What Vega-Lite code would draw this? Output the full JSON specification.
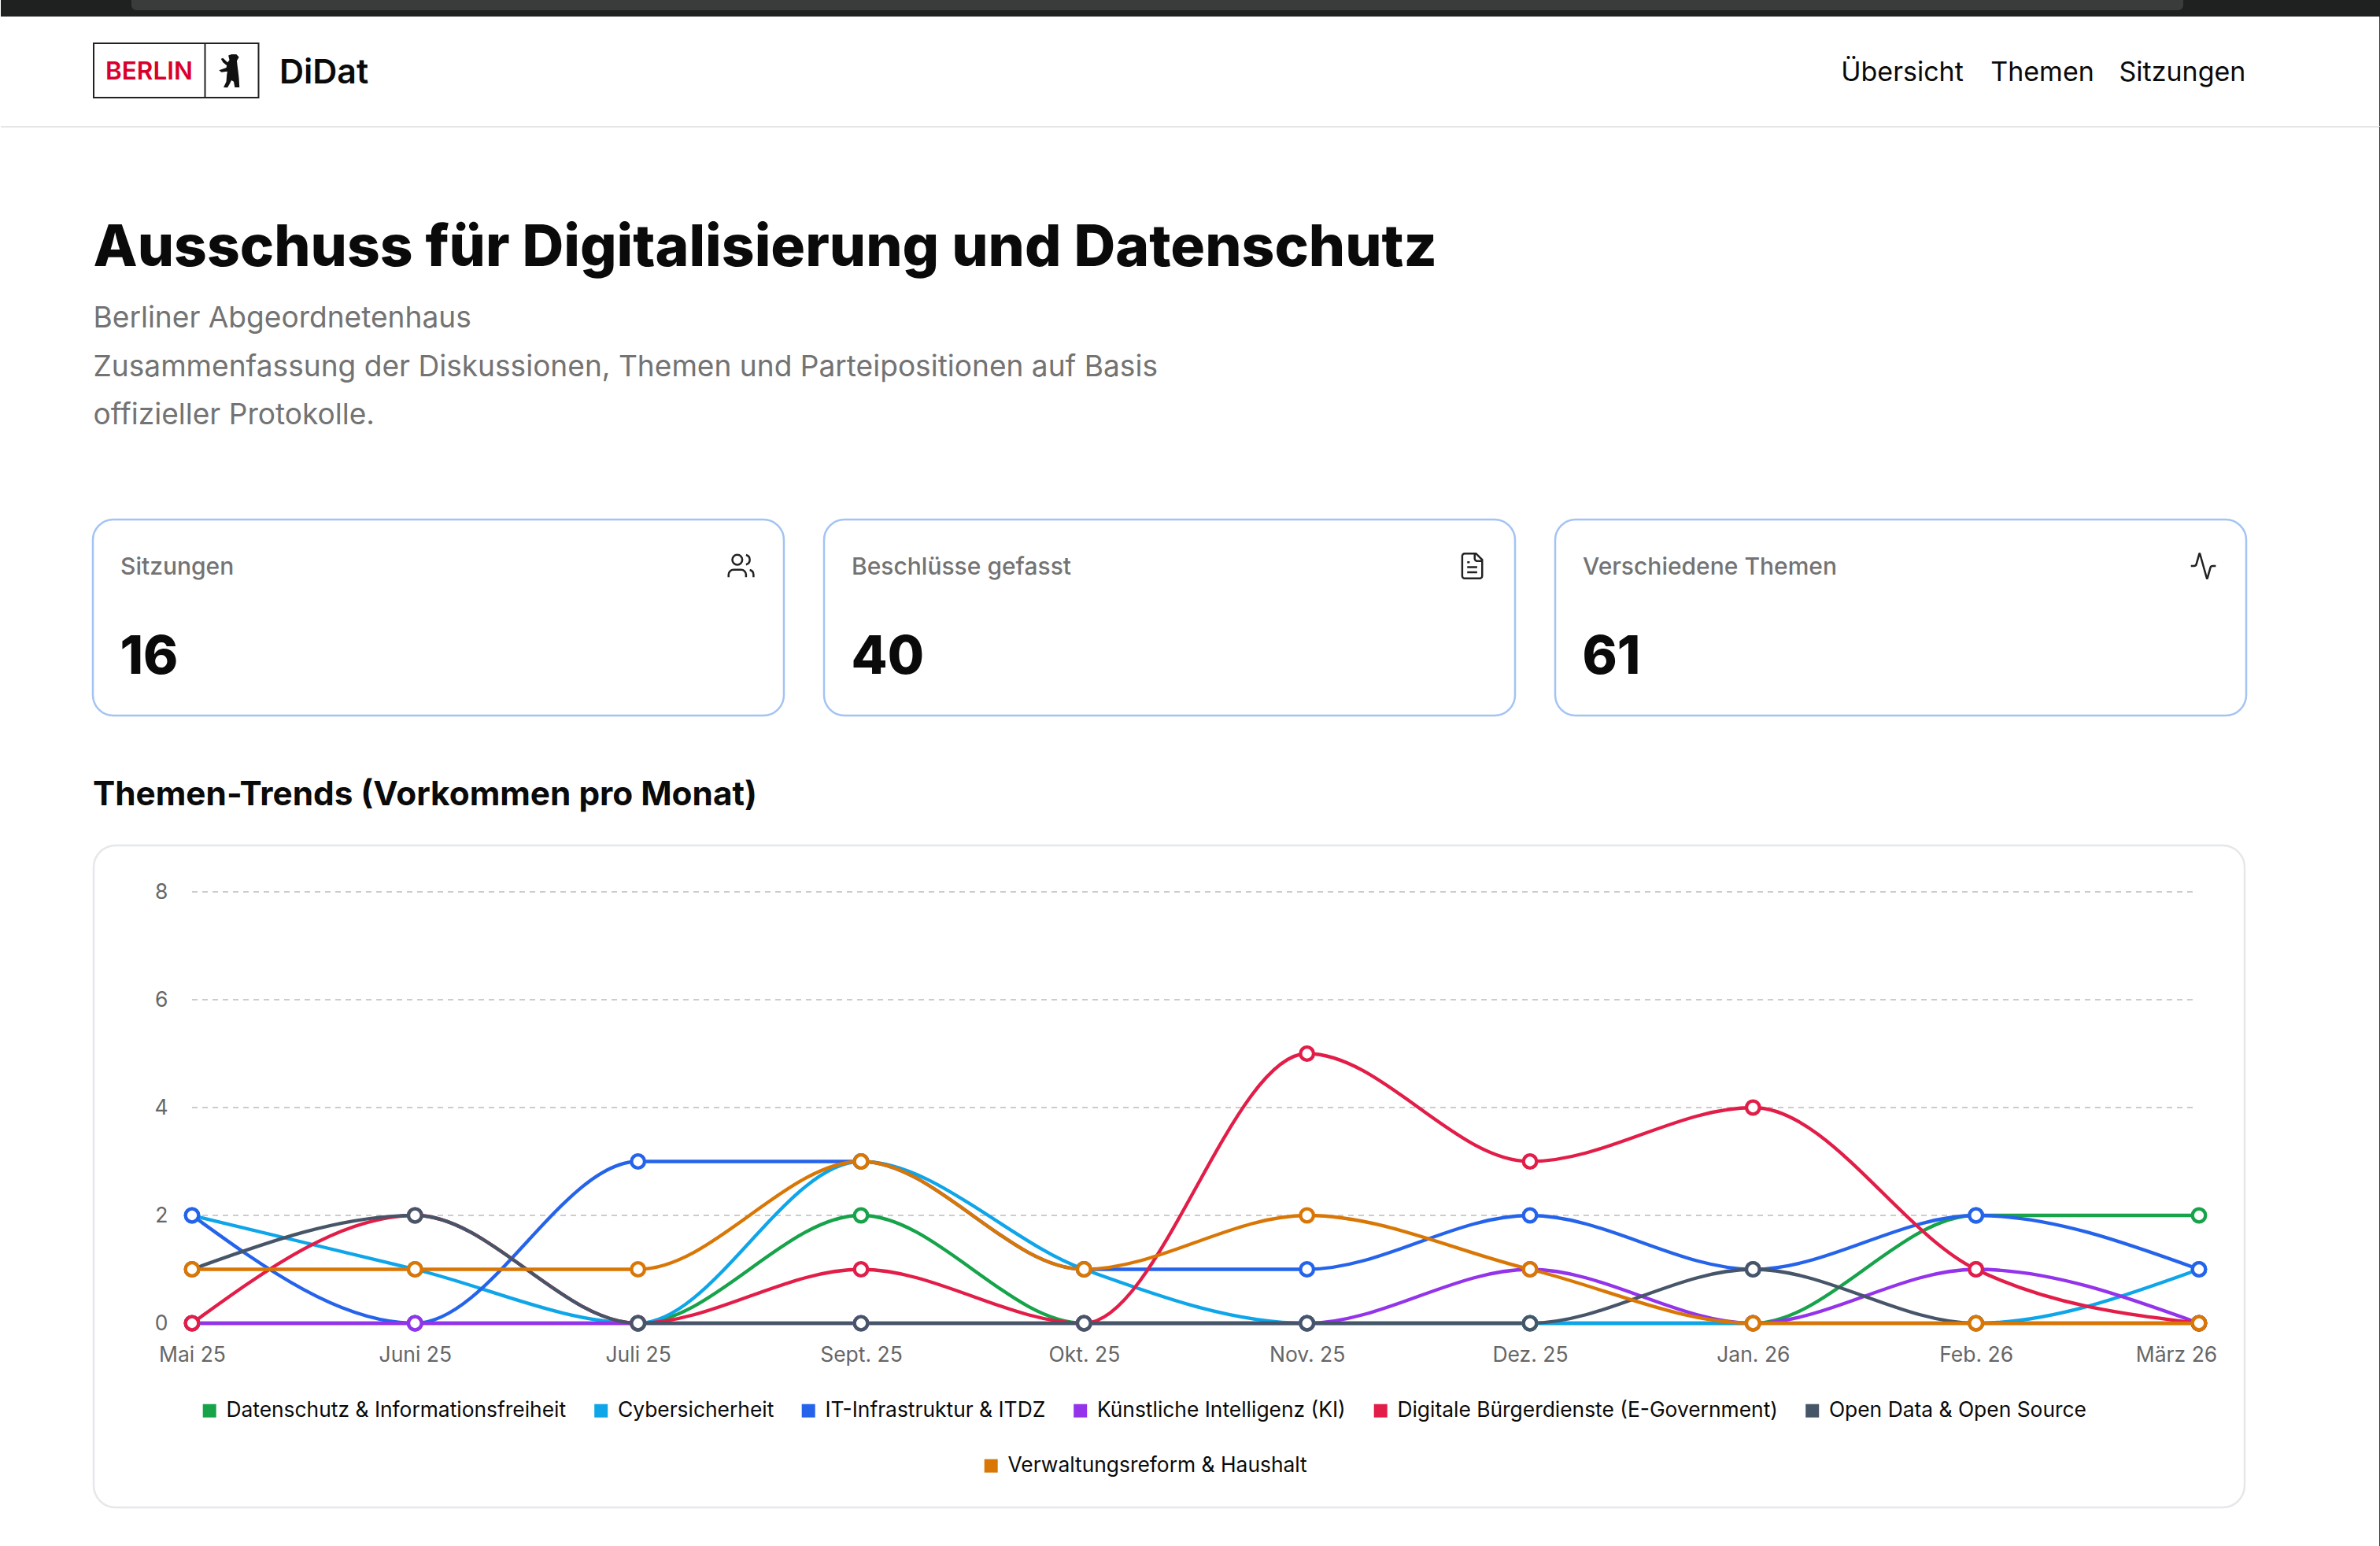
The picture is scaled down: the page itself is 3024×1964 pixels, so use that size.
{
  "$schema": "https://vega.github.io/schema/vega-lite/v6.json",
  "background": "white",
  "padding": 0,
  "bounds": "flush",
  "spacing": 0,
  "config": {
    "font": "Inter",
    "view": {"stroke": null},
    "title": {"font": "Inter", "subtitleFont": "Inter"},
    "legend": {"labelFont": "Inter"},
    "axis": {"labelFont": "Inter"}
  },
  "datasets": {
    "themen": [
      {"Monat": "Mai 25", "Thema": "Datenschutz & Informationsfreiheit", "Anzahl": 0},
      {"Monat": "Juni 25", "Thema": "Datenschutz & Informationsfreiheit", "Anzahl": 0},
      {"Monat": "Juli 25", "Thema": "Datenschutz & Informationsfreiheit", "Anzahl": 0},
      {"Monat": "Sept. 25", "Thema": "Datenschutz & Informationsfreiheit", "Anzahl": 2},
      {"Monat": "Okt. 25", "Thema": "Datenschutz & Informationsfreiheit", "Anzahl": 0},
      {"Monat": "Nov. 25", "Thema": "Datenschutz & Informationsfreiheit", "Anzahl": 0},
      {"Monat": "Dez. 25", "Thema": "Datenschutz & Informationsfreiheit", "Anzahl": 0},
      {"Monat": "Jan. 26", "Thema": "Datenschutz & Informationsfreiheit", "Anzahl": 0},
      {"Monat": "Feb. 26", "Thema": "Datenschutz & Informationsfreiheit", "Anzahl": 2},
      {"Monat": "März 26", "Thema": "Datenschutz & Informationsfreiheit", "Anzahl": 2},
      {"Monat": "Mai 25", "Thema": "Cybersicherheit", "Anzahl": 2},
      {"Monat": "Juni 25", "Thema": "Cybersicherheit", "Anzahl": 1},
      {"Monat": "Juli 25", "Thema": "Cybersicherheit", "Anzahl": 0},
      {"Monat": "Sept. 25", "Thema": "Cybersicherheit", "Anzahl": 3},
      {"Monat": "Okt. 25", "Thema": "Cybersicherheit", "Anzahl": 1},
      {"Monat": "Nov. 25", "Thema": "Cybersicherheit", "Anzahl": 0},
      {"Monat": "Dez. 25", "Thema": "Cybersicherheit", "Anzahl": 0},
      {"Monat": "Jan. 26", "Thema": "Cybersicherheit", "Anzahl": 0},
      {"Monat": "Feb. 26", "Thema": "Cybersicherheit", "Anzahl": 0},
      {"Monat": "März 26", "Thema": "Cybersicherheit", "Anzahl": 1},
      {"Monat": "Mai 25", "Thema": "IT-Infrastruktur & ITDZ", "Anzahl": 2},
      {"Monat": "Juni 25", "Thema": "IT-Infrastruktur & ITDZ", "Anzahl": 0},
      {"Monat": "Juli 25", "Thema": "IT-Infrastruktur & ITDZ", "Anzahl": 3},
      {"Monat": "Sept. 25", "Thema": "IT-Infrastruktur & ITDZ", "Anzahl": 3},
      {"Monat": "Okt. 25", "Thema": "IT-Infrastruktur & ITDZ", "Anzahl": 1},
      {"Monat": "Nov. 25", "Thema": "IT-Infrastruktur & ITDZ", "Anzahl": 1},
      {"Monat": "Dez. 25", "Thema": "IT-Infrastruktur & ITDZ", "Anzahl": 2},
      {"Monat": "Jan. 26", "Thema": "IT-Infrastruktur & ITDZ", "Anzahl": 1},
      {"Monat": "Feb. 26", "Thema": "IT-Infrastruktur & ITDZ", "Anzahl": 2},
      {"Monat": "März 26", "Thema": "IT-Infrastruktur & ITDZ", "Anzahl": 1},
      {"Monat": "Mai 25", "Thema": "Künstliche Intelligenz (KI)", "Anzahl": 0},
      {"Monat": "Juni 25", "Thema": "Künstliche Intelligenz (KI)", "Anzahl": 0},
      {"Monat": "Juli 25", "Thema": "Künstliche Intelligenz (KI)", "Anzahl": 0},
      {"Monat": "Sept. 25", "Thema": "Künstliche Intelligenz (KI)", "Anzahl": 0},
      {"Monat": "Okt. 25", "Thema": "Künstliche Intelligenz (KI)", "Anzahl": 0},
      {"Monat": "Nov. 25", "Thema": "Künstliche Intelligenz (KI)", "Anzahl": 0},
      {"Monat": "Dez. 25", "Thema": "Künstliche Intelligenz (KI)", "Anzahl": 1},
      {"Monat": "Jan. 26", "Thema": "Künstliche Intelligenz (KI)", "Anzahl": 0},
      {"Monat": "Feb. 26", "Thema": "Künstliche Intelligenz (KI)", "Anzahl": 1},
      {"Monat": "März 26", "Thema": "Künstliche Intelligenz (KI)", "Anzahl": 0},
      {"Monat": "Mai 25", "Thema": "Digitale Bürgerdienste (E-Government)", "Anzahl": 0},
      {"Monat": "Juni 25", "Thema": "Digitale Bürgerdienste (E-Government)", "Anzahl": 2},
      {"Monat": "Juli 25", "Thema": "Digitale Bürgerdienste (E-Government)", "Anzahl": 0},
      {"Monat": "Sept. 25", "Thema": "Digitale Bürgerdienste (E-Government)", "Anzahl": 1},
      {"Monat": "Okt. 25", "Thema": "Digitale Bürgerdienste (E-Government)", "Anzahl": 0},
      {"Monat": "Nov. 25", "Thema": "Digitale Bürgerdienste (E-Government)", "Anzahl": 5},
      {"Monat": "Dez. 25", "Thema": "Digitale Bürgerdienste (E-Government)", "Anzahl": 3},
      {"Monat": "Jan. 26", "Thema": "Digitale Bürgerdienste (E-Government)", "Anzahl": 4},
      {"Monat": "Feb. 26", "Thema": "Digitale Bürgerdienste (E-Government)", "Anzahl": 1},
      {"Monat": "März 26", "Thema": "Digitale Bürgerdienste (E-Government)", "Anzahl": 0},
      {"Monat": "Mai 25", "Thema": "Open Data & Open Source", "Anzahl": 1},
      {"Monat": "Juni 25", "Thema": "Open Data & Open Source", "Anzahl": 2},
      {"Monat": "Juli 25", "Thema": "Open Data & Open Source", "Anzahl": 0},
      {"Monat": "Sept. 25", "Thema": "Open Data & Open Source", "Anzahl": 0},
      {"Monat": "Okt. 25", "Thema": "Open Data & Open Source", "Anzahl": 0},
      {"Monat": "Nov. 25", "Thema": "Open Data & Open Source", "Anzahl": 0},
      {"Monat": "Dez. 25", "Thema": "Open Data & Open Source", "Anzahl": 0},
      {"Monat": "Jan. 26", "Thema": "Open Data & Open Source", "Anzahl": 1},
      {"Monat": "Feb. 26", "Thema": "Open Data & Open Source", "Anzahl": 0},
      {"Monat": "März 26", "Thema": "Open Data & Open Source", "Anzahl": 0}
    ],
    "verwaltung": [
      {"Monat": "Mai 25", "Thema": "Verwaltungsreform & Haushalt", "Anzahl": 1},
      {"Monat": "Juni 25", "Thema": "Verwaltungsreform & Haushalt", "Anzahl": 1},
      {"Monat": "Juli 25", "Thema": "Verwaltungsreform & Haushalt", "Anzahl": 1},
      {"Monat": "Sept. 25", "Thema": "Verwaltungsreform & Haushalt", "Anzahl": 3},
      {"Monat": "Okt. 25", "Thema": "Verwaltungsreform & Haushalt", "Anzahl": 1},
      {"Monat": "Nov. 25", "Thema": "Verwaltungsreform & Haushalt", "Anzahl": 2},
      {"Monat": "Dez. 25", "Thema": "Verwaltungsreform & Haushalt", "Anzahl": 1},
      {"Monat": "Jan. 26", "Thema": "Verwaltungsreform & Haushalt", "Anzahl": 0},
      {"Monat": "Feb. 26", "Thema": "Verwaltungsreform & Haushalt", "Anzahl": 0},
      {"Monat": "März 26", "Thema": "Verwaltungsreform & Haushalt", "Anzahl": 0}
    ],
    "kennzahlen": [
      {"Kennzahl": "Sitzungen", "Wert": 16},
      {"Kennzahl": "Beschlüsse gefasst", "Wert": 40},
      {"Kennzahl": "Verschiedene Themen", "Wert": 61}
    ]
  },
  "vconcat": [
    {
      "width": 3024,
      "height": 21,
      "view": {"fill": "#1f2121"},
      "data": {"values": [{"Element": "Tableiste"}]},
      "mark": {"type": "rect", "color": "#3a3c3b", "cornerRadiusBottomLeft": 14, "cornerRadiusBottomRight": 14},
      "encoding": {
        "x": {"datum": 166, "type": "quantitative", "scale": {"domain": [0, 3024]}, "axis": null},
        "x2": {"datum": 2773},
        "y": {"datum": 0, "type": "quantitative", "scale": {"domain": [0, 21], "range": [0, 21]}, "axis": null},
        "y2": {"datum": 13}
      }
    },
    {
      "width": 3024,
      "height": 140,
      "resolve": {"scale": {"x": "independent"}},
      "layer": [
        {
          "data": {"values": [{"Element": "Fensterrand"}]},
          "mark": {"type": "rule", "color": "#3a3a3a", "strokeWidth": 2},
          "encoding": {
            "x": {"datum": 3023, "type": "quantitative", "scale": {"domain": [0, 3024]}, "axis": null}
          }
        },
        {
          "data": {"values": [{"Element": "Rand"}]},
          "mark": {"type": "rule", "color": "#e5e5e5", "strokeWidth": 2},
          "encoding": {
            "y": {"datum": 140, "type": "quantitative", "scale": {"domain": [0, 140], "range": [0, 140]}, "axis": null}
          }
        },
        {
          "data": {"values": [{"Element": "Logo"}]},
          "mark": {"type": "rect", "fillOpacity": 0, "stroke": "#222222", "strokeWidth": 2},
          "encoding": {
            "x": {"datum": 118, "type": "quantitative", "scale": {"domain": [0, 3024]}, "axis": null},
            "x2": {"datum": 327.5},
            "y": {"datum": 34, "type": "quantitative"},
            "y2": {"datum": 103}
          }
        },
        {
          "data": {"values": [{"Element": "Logo"}]},
          "mark": {"type": "rule", "color": "#222222", "strokeWidth": 2},
          "encoding": {
            "x": {"datum": 259.5, "type": "quantitative", "scale": {"domain": [0, 3024]}, "axis": null},
            "y": {"datum": 34, "type": "quantitative"},
            "y2": {"datum": 103}
          }
        },
        {
          "data": {"values": [{"Text": "BERLIN"}]},
          "mark": {"type": "text", "align": "left", "baseline": "alphabetic", "fontSize": 31.5, "fontWeight": 600, "color": "#d9002b"},
          "encoding": {
            "x": {"datum": 133, "type": "quantitative", "scale": {"domain": [0, 3024]}, "axis": null},
            "y": {"datum": 80, "type": "quantitative"},
            "text": {"field": "Text"}
          }
        },
        {
          "data": {"values": [{"Element": "Baer"}]},
          "mark": {
            "type": "point",
            "filled": true,
            "color": "#111111",
            "opacity": 1,
            "size": 1936,
            "shape": "M -0.06 -0.89 L 0.12 -0.95 L 0.4 -0.95 L 0.55 -0.8 L 0.43 -0.58 L 0.46 -0.31 L 0.51 0.08 L 0.55 0.46 L 0.58 0.95 L 0.31 0.95 L 0.25 0.62 L 0.12 0.54 L 0 0.77 L -0.11 0.97 L -0.34 0.95 L -0.18 0.62 L -0.15 0.23 L -0.12 0.03 L -0.46 0.08 L -0.6 -0.03 L -0.18 -0.18 L -0.15 -0.31 L -0.37 -0.49 L -0.49 -0.69 L -0.37 -0.74 L -0.11 -0.49 L 0 -0.62 Z"
          },
          "encoding": {
            "x": {"datum": 290.5, "type": "quantitative", "scale": {"domain": [0, 3024]}, "axis": null},
            "y": {"datum": 69, "type": "quantitative"}
          }
        },
        {
          "data": {"values": [{"Text": "DiDat"}]},
          "mark": {"type": "text", "align": "left", "baseline": "alphabetic", "fontSize": 43, "fontWeight": 600, "color": "#0a0a0a"},
          "encoding": {
            "x": {"datum": 354, "type": "quantitative", "scale": {"domain": [0, 3024]}, "axis": null},
            "y": {"datum": 85, "type": "quantitative"},
            "text": {"field": "Text"}
          }
        },
        {
          "data": {"values": [{"Text": "Übersicht"}, {"Text": "Themen"}, {"Text": "Sitzungen"}]},
          "mark": {"type": "text", "align": "center", "baseline": "alphabetic", "fontSize": 34, "fontWeight": 400, "color": "#0a0a0a"},
          "encoding": {
            "x": {
              "field": "Text",
              "type": "nominal",
              "sort": null,
              "scale": {"type": "point", "range": [2416, 2772], "padding": 0},
              "axis": null
            },
            "y": {"datum": 82, "type": "quantitative"},
            "text": {"field": "Text"}
          }
        }
      ]
    },
    {
      "width": 3024,
      "height": 499,
      "title": {
        "text": "Ausschuss für Digitalisierung und Datenschutz",
        "subtitle": [
          "Berliner Abgeordnetenhaus",
          "Zusammenfassung der Diskussionen, Themen und Parteipositionen auf Basis",
          "offizieller Protokolle."
        ],
        "anchor": "start",
        "frame": "group",
        "dx": 117.5,
        "offset": -386.5,
        "fontSize": 73,
        "fontWeight": 800,
        "color": "#0a0a0a",
        "subtitleFontSize": 37.1,
        "subtitleFontWeight": 400,
        "subtitleColor": "#737373",
        "subtitleLineHeight": 61.5,
        "subtitlePadding": 34
      },
      "data": {"values": [{"Element": "Fensterrand"}]},
      "mark": {"type": "rule", "color": "#3a3a3a", "strokeWidth": 2},
      "encoding": {
        "x": {"datum": 3023, "type": "quantitative", "scale": {"domain": [0, 3024]}, "axis": null}
      }
    },
    {
      "width": 3024,
      "height": 249,
      "resolve": {"scale": {"x": "independent"}},
      "layer": [
        {
          "data": {"values": [{"Element": "Fensterrand"}]},
          "mark": {"type": "rule", "color": "#3a3a3a", "strokeWidth": 2},
          "encoding": {
            "x": {"datum": 3023, "type": "quantitative", "scale": {"domain": [0, 3024]}, "axis": null}
          }
        },
        {
          "data": {"name": "kennzahlen"},
          "mark": {"type": "rect", "fillOpacity": 0, "stroke": "#a3c4f3", "strokeWidth": 2.5, "cornerRadius": 26},
          "encoding": {
            "x": {"field": "Kennzahl", "type": "nominal", "sort": null, "scale": {"type": "band", "range": [117, 2853], "paddingInner": 0.0549, "paddingOuter": 0}, "axis": null},
            "y": {"datum": 0, "type": "quantitative", "scale": {"domain": [0, 1]}, "axis": null},
            "y2": {"datum": 1}
          }
        },
        {
          "data": {"name": "kennzahlen"},
          "mark": {"type": "text", "align": "left", "baseline": "alphabetic", "dx": 35, "fontSize": 30, "fontWeight": 500, "color": "#737373"},
          "encoding": {
            "x": {"field": "Kennzahl", "type": "nominal", "sort": null, "bandPosition": 0, "scale": {"type": "band", "range": [117, 2853], "paddingInner": 0.0549, "paddingOuter": 0}, "axis": null},
            "y": {"datum": 0.719, "type": "quantitative"},
            "text": {"field": "Kennzahl"}
          }
        },
        {
          "data": {"name": "kennzahlen"},
          "mark": {"type": "text", "align": "left", "baseline": "alphabetic", "dx": 34.5, "fontSize": 67, "fontWeight": 800, "color": "#0a0a0a"},
          "encoding": {
            "x": {"field": "Kennzahl", "type": "nominal", "sort": null, "bandPosition": 0, "scale": {"type": "band", "range": [117, 2853], "paddingInner": 0.0549, "paddingOuter": 0}, "axis": null},
            "y": {"datum": 0.212, "type": "quantitative"},
            "text": {"field": "Wert", "type": "quantitative"}
          }
        },
        {
          "data": {"name": "kennzahlen"},
          "transform": [{"filter": "datum.Kennzahl == 'Sitzungen'"}],
          "mark": {
            "type": "point", "filled": false, "opacity": 1, "color": "#222222", "strokeWidth": 2.5, "size": 1444,
            "shape": "M 0.3333 0.75 v -0.1667 a 0.3333 0.3333 0 0 0 -0.3333 -0.3333 H -0.5 a 0.3333 0.3333 0 0 0 -0.3333 0.3333 v 0.1667 M -0.5833 -0.4167 a 0.3333 0.3333 0 1 0 0.6667 0 a 0.3333 0.3333 0 1 0 -0.6667 0 Z M 0.8333 0.75 v -0.1667 a 0.3333 0.3333 0 0 0 -0.25 -0.3225 M 0.3333 -0.7392 a 0.3333 0.3333 0 0 1 0 0.6458"
          },
          "encoding": {
            "x": {"field": "Kennzahl", "type": "nominal", "sort": null, "bandPosition": 0.938, "scale": {"type": "band", "domain": ["Sitzungen", "Beschlüsse gefasst", "Verschiedene Themen"], "range": [117, 2853], "paddingInner": 0.0549, "paddingOuter": 0}, "axis": null},
            "y": {"datum": 0.763, "type": "quantitative"}
          }
        },
        {
          "data": {"name": "kennzahlen"},
          "transform": [{"filter": "datum.Kennzahl == 'Beschlüsse gefasst'"}],
          "mark": {
            "type": "point", "filled": false, "opacity": 1, "color": "#222222", "strokeWidth": 2.5, "size": 1444,
            "shape": "M 0.25 -0.8333 H -0.5 a 0.1667 0.1667 0 0 0 -0.1667 0.1667 v 1.3333 a 0.1667 0.1667 0 0 0 0.1667 0.1667 h 1 a 0.1667 0.1667 0 0 0 0.1667 -0.1667 V -0.4167 Z M 0.1667 -0.8333 v 0.3333 a 0.1667 0.1667 0 0 0 0.1667 0.1667 h 0.3333 M -0.1667 -0.25 H -0.3333 M 0.3333 0.0833 H -0.3333 M 0.3333 0.4167 H -0.3333"
          },
          "encoding": {
            "x": {"field": "Kennzahl", "type": "nominal", "sort": null, "bandPosition": 0.938, "scale": {"type": "band", "domain": ["Sitzungen", "Beschlüsse gefasst", "Verschiedene Themen"], "range": [117, 2853], "paddingInner": 0.0549, "paddingOuter": 0}, "axis": null},
            "y": {"datum": 0.763, "type": "quantitative"}
          }
        },
        {
          "data": {"name": "kennzahlen"},
          "transform": [{"filter": "datum.Kennzahl == 'Verschiedene Themen'"}],
          "mark": {
            "type": "point", "filled": false, "opacity": 1, "color": "#222222", "strokeWidth": 2.5, "size": 1444,
            "shape": "M 0.8333 0 h -0.2067 a 0.1667 0.1667 0 0 0 -0.1608 0.1217 l -0.1958 0.6967 a 0.0208 0.0208 0 0 1 -0.04 0 L -0.23 -0.8183 a 0.0208 0.0208 0 0 0 -0.04 0 l -0.1958 0.6967 A 0.1667 0.1667 0 0 1 -0.6258 0 H -0.8333"
          },
          "encoding": {
            "x": {"field": "Kennzahl", "type": "nominal", "sort": null, "bandPosition": 0.938, "scale": {"type": "band", "domain": ["Sitzungen", "Beschlüsse gefasst", "Verschiedene Themen"], "range": [117, 2853], "paddingInner": 0.0549, "paddingOuter": 0}, "axis": null},
            "y": {"datum": 0.763, "type": "quantitative"}
          }
        }
      ]
    },
    {
      "width": 3024,
      "height": 1055,
      "title": {
        "text": "Themen-Trends (Vorkommen pro Monat)",
        "anchor": "start",
        "frame": "group",
        "dx": 117,
        "offset": -124,
        "fontSize": 42.3,
        "fontWeight": 700,
        "color": "#0a0a0a"
      },
      "resolve": {
        "scale": {"x": "independent", "y": "independent", "color": "independent"},
        "axis": {"x": "independent", "y": "independent"},
        "legend": {"color": "independent"}
      },
      "layer": [
        {
          "data": {"values": [{"Element": "Fensterrand"}]},
          "mark": {"type": "rule", "color": "#3a3a3a", "strokeWidth": 2},
          "encoding": {
            "x": {"datum": 3023, "type": "quantitative", "scale": {"domain": [0, 3024]}, "axis": null}
          }
        },
        {
          "data": {"values": [{"Element": "Rahmen"}]},
          "mark": {"type": "rect", "fillOpacity": 0, "stroke": "#e5e7eb", "strokeWidth": 2.5, "cornerRadius": 28},
          "encoding": {
            "x": {"datum": 118, "type": "quantitative", "scale": {"domain": [0, 3024]}, "axis": null},
            "x2": {"datum": 2851},
            "y": {"datum": 165, "type": "quantitative", "scale": {"domain": [0, 1055], "range": [0, 1055]}, "axis": null},
            "y2": {"datum": 1006}
          }
        },
        {
          "data": {"values": [{"Wert": 0}, {"Wert": 2}, {"Wert": 4}, {"Wert": 6}, {"Wert": 8}]},
          "mark": {"type": "rule", "color": "#cccccc", "strokeWidth": 2, "strokeDash": [7, 6]},
          "encoding": {
            "x": {"datum": 243, "type": "quantitative", "scale": {"domain": [0, 3024]}, "axis": null},
            "x2": {"datum": 2788},
            "y": {"field": "Wert", "type": "quantitative", "scale": {"domain": [0, 8], "range": [772, 224], "nice": false}, "axis": null}
          }
        },
        {
          "data": {"name": "themen"},
          "mark": {"type": "line", "interpolate": "monotone", "strokeWidth": 4.3},
          "encoding": {
            "x": {
              "field": "Monat",
              "type": "nominal",
              "sort": null,
              "title": null,
              "scale": {"type": "point", "domain": ["Mai 25", "Juni 25", "Juli 25", "Sept. 25", "Okt. 25", "Nov. 25", "Dez. 25", "Jan. 26", "Feb. 26", "März 26"], "range": [243, 2793], "padding": 0},
              "axis": {
                "offset": -283,
                "domain": false,
                "ticks": false,
                "grid": false,
                "labelAngle": 0,
                "labelFontSize": 26.5,
                "labelColor": "#666666",
                "labelPadding": 27,
                "labelOffset": {"expr": "datum.label == 'März 26' ? -29 : 0"},
                "zindex": 1
              }
            },
            "y": {
              "field": "Anzahl",
              "type": "quantitative",
              "title": null,
              "scale": {"domain": [0, 8], "range": [772, 224], "nice": false},
              "axis": {
                "offset": -243,
                "values": [0, 2, 4, 6, 8],
                "domain": false,
                "ticks": false,
                "grid": false,
                "labelFontSize": 26.5,
                "labelColor": "#666666",
                "labelPadding": 31,
                "zindex": 1
              }
            },
            "color": {
              "field": "Thema",
              "type": "nominal",
              "sort": null,
              "scale": {
                "domain": ["Datenschutz & Informationsfreiheit", "Cybersicherheit", "IT-Infrastruktur & ITDZ", "Künstliche Intelligenz (KI)", "Digitale Bürgerdienste (E-Government)", "Open Data & Open Source"],
                "range": ["#16a34a", "#0ea5e9", "#2563eb", "#9333ea", "#e11d48", "#475569"]
              },
              "legend": {
                "orient": "none",
                "legendX": 252,
                "legendY": 870,
                "title": null,
                "padding": 0,
                "columns": 6,
                "gridAlign": "none",
                "columnPadding": 16.5,
                "symbolType": "square",
                "symbolSize": 25,
                "symbolStrokeWidth": 12,
                "labelFontSize": 26.4,
                "labelColor": "#0a0a0a",
                "labelOffset": 8,
                "labelLimit": 800
              }
            }
          }
        },
        {
          "data": {"name": "themen"},
          "mark": {"type": "point", "filled": false, "fill": "white", "fillOpacity": 1, "opacity": 1, "strokeWidth": 4.3, "size": 275},
          "encoding": {
            "x": {
              "field": "Monat",
              "type": "nominal",
              "sort": null,
              "scale": {"type": "point", "domain": ["Mai 25", "Juni 25", "Juli 25", "Sept. 25", "Okt. 25", "Nov. 25", "Dez. 25", "Jan. 26", "Feb. 26", "März 26"], "range": [243, 2793], "padding": 0},
              "axis": null
            },
            "y": {"field": "Anzahl", "type": "quantitative", "scale": {"domain": [0, 8], "range": [772, 224], "nice": false}, "axis": null},
            "color": {
              "field": "Thema",
              "type": "nominal",
              "sort": null,
              "scale": {
                "domain": ["Datenschutz & Informationsfreiheit", "Cybersicherheit", "IT-Infrastruktur & ITDZ", "Künstliche Intelligenz (KI)", "Digitale Bürgerdienste (E-Government)", "Open Data & Open Source"],
                "range": ["#16a34a", "#0ea5e9", "#2563eb", "#9333ea", "#e11d48", "#475569"]
              },
              "legend": null
            }
          }
        },
        {
          "data": {"name": "verwaltung"},
          "mark": {"type": "line", "interpolate": "monotone", "strokeWidth": 4.3},
          "encoding": {
            "x": {
              "field": "Monat",
              "type": "nominal",
              "sort": null,
              "scale": {"type": "point", "domain": ["Mai 25", "Juni 25", "Juli 25", "Sept. 25", "Okt. 25", "Nov. 25", "Dez. 25", "Jan. 26", "Feb. 26", "März 26"], "range": [243, 2793], "padding": 0},
              "axis": null
            },
            "y": {"field": "Anzahl", "type": "quantitative", "scale": {"domain": [0, 8], "range": [772, 224], "nice": false}, "axis": null},
            "color": {
              "field": "Thema",
              "type": "nominal",
              "scale": {"domain": ["Verwaltungsreform & Haushalt"], "range": ["#d97706"]},
              "legend": {
                "orient": "none",
                "legendX": 1245,
                "legendY": 940,
                "title": null,
                "padding": 0,
                "symbolType": "square",
                "symbolSize": 25,
                "symbolStrokeWidth": 12,
                "labelFontSize": 26.4,
                "labelColor": "#0a0a0a",
                "labelOffset": 8,
                "labelLimit": 800
              }
            }
          }
        },
        {
          "data": {"name": "verwaltung"},
          "mark": {"type": "point", "filled": false, "fill": "white", "fillOpacity": 1, "opacity": 1, "strokeWidth": 4.3, "size": 275},
          "encoding": {
            "x": {
              "field": "Monat",
              "type": "nominal",
              "sort": null,
              "scale": {"type": "point", "domain": ["Mai 25", "Juni 25", "Juli 25", "Sept. 25", "Okt. 25", "Nov. 25", "Dez. 25", "Jan. 26", "Feb. 26", "März 26"], "range": [243, 2793], "padding": 0},
              "axis": null
            },
            "y": {"field": "Anzahl", "type": "quantitative", "scale": {"domain": [0, 8], "range": [772, 224], "nice": false}, "axis": null},
            "color": {
              "field": "Thema",
              "type": "nominal",
              "scale": {"domain": ["Verwaltungsreform & Haushalt"], "range": ["#d97706"]},
              "legend": null
            }
          }
        }
      ]
    }
  ]
}
